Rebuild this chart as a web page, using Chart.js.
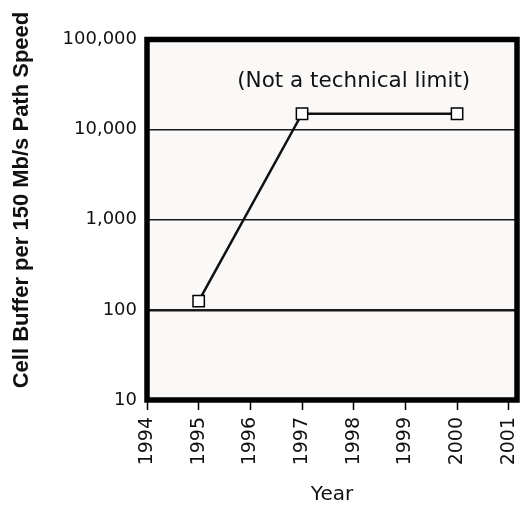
<!DOCTYPE html>
<html>
<head>
<meta charset="utf-8">
<title>Cell Buffer per 150 Mb/s Path Speed</title>
<script src="https://cdn.jsdelivr.net/npm/chart.js@4.4.1/dist/chart.umd.min.js"></script>
<style>
    html, body { margin: 0; padding: 0; background: #ffffff; }
    #wrap { width: 527px; height: 511px; }
</style>
</head>
<body>
<div id="wrap"><canvas id="bufferChart" width="527" height="511"></canvas></div>
<script>
// Buffer size per switch generation
const years = [1995, 1997, 2000];
const cellBuffer = [125, 15000, 15000];

// Axis ticks
const yearTicks = [1994, 1995, 1996, 1997, 1998, 1999, 2000, 2001];
const bufferTicks = [10, 100, 1000, 10000, 100000];
const gridValues = [100, 1000, 10000];

// Note placed above the plateau
const noteText = '(Not a technical limit)';
const noteYear = 1998;
const noteValue = 34000;

const yTitle = 'Cell Buffer per 150 Mb/s Path Speed';

// Plot background, heavy frame, note and rotated axis title
const framePlugin = {
    id: 'frame',
    beforeDraw(chart) {
        const { ctx, chartArea: a } = chart;
        ctx.save();
        ctx.fillStyle = '#faf9f7';
        ctx.fillRect(a.left, a.top, a.right - a.left, a.bottom - a.top);
        ctx.restore();
    },
    afterDraw(chart) {
        const { ctx, chartArea: a, scales } = chart;
        ctx.save();
        ctx.strokeStyle = '#000';
        ctx.lineWidth = 5.5;
        ctx.strokeRect(a.left, a.top, a.right - a.left, a.bottom - a.top);

        ctx.fillStyle = '#111';
        ctx.font = '21.5px "DejaVu Sans"';
        ctx.textAlign = 'center';
        ctx.textBaseline = 'middle';
        ctx.fillText(noteText, scales.x.getPixelForValue(noteYear), scales.y.getPixelForValue(noteValue));

        ctx.translate(22, 200);
        ctx.rotate(-Math.PI / 2);
        ctx.font = 'bold 22px "Liberation Sans"';
        ctx.fillText(yTitle, 0, 0);
        ctx.restore();
    }
};

const ctx = document.getElementById('bufferChart').getContext('2d');

new Chart(ctx, {
    type: 'line',
    data: {
        datasets: [{
            label: 'Cell buffer',
            data: years.map((yr, i) => ({ x: yr, y: cellBuffer[i] })),
            borderColor: '#111',
            borderWidth: 2.5,
            tension: 0,
            pointStyle: 'rect',
            pointRadius: 8,
            pointBorderWidth: 1.5,
            pointBorderColor: '#000',
            pointBackgroundColor: '#fff',
            clip: false
        }]
    },
    options: {
        responsive: false,
        animation: false,
        devicePixelRatio: 1,
        layout: {
            padding: { top: 39.5, right: 10, bottom: 0, left: 0 }
        },
        plugins: {
            legend: { display: false },
            tooltip: { enabled: false }
        },
        scales: {
            x: {
                type: 'linear',
                min: 1994,
                max: 2001.16,
                afterBuildTicks: scale => {
                    scale.ticks = yearTicks.map(v => ({ value: v }));
                },
                afterFit: scale => {
                    scale.height = 111;
                    scale.paddingLeft = 0;
                    scale.paddingRight = 0;
                },
                border: { display: false },
                grid: {
                    drawOnChartArea: false,
                    drawTicks: true,
                    tickLength: 10,
                    tickWidth: 1.5,
                    color: '#000',
                    tickColor: '#000'
                },
                ticks: {
                    minRotation: 90,
                    maxRotation: 90,
                    padding: 7,
                    color: '#111',
                    font: { family: '"DejaVu Sans"', size: 19 },
                    callback: value => String(value)
                },
                title: {
                    display: true,
                    text: 'Year',
                    color: '#111',
                    font: { family: '"DejaVu Sans"', size: 20 },
                    padding: { top: 4, bottom: 4 }
                }
            },
            y: {
                type: 'logarithmic',
                min: 10,
                max: 100000,
                afterBuildTicks: scale => {
                    scale.ticks = bufferTicks.map(v => ({ value: v }));
                },
                afterFit: scale => {
                    scale.width = 147;
                    scale.paddingTop = 0;
                    scale.paddingBottom = 0;
                },
                border: { display: false },
                grid: {
                    drawTicks: false,
                    color: c => gridValues.includes(c.tick.value) ? '#1a1a1a' : 'rgba(0,0,0,0)',
                    lineWidth: c => c.tick.value === 100 ? 2.5 : 1.5
                },
                ticks: {
                    padding: 10,
                    color: '#111',
                    font: { family: '"DejaVu Sans"', size: 18 },
                    callback: value => Number(value).toLocaleString('en-US')
                }
            }
        }
    },
    plugins: [framePlugin]
});
</script>
</body>
</html>
